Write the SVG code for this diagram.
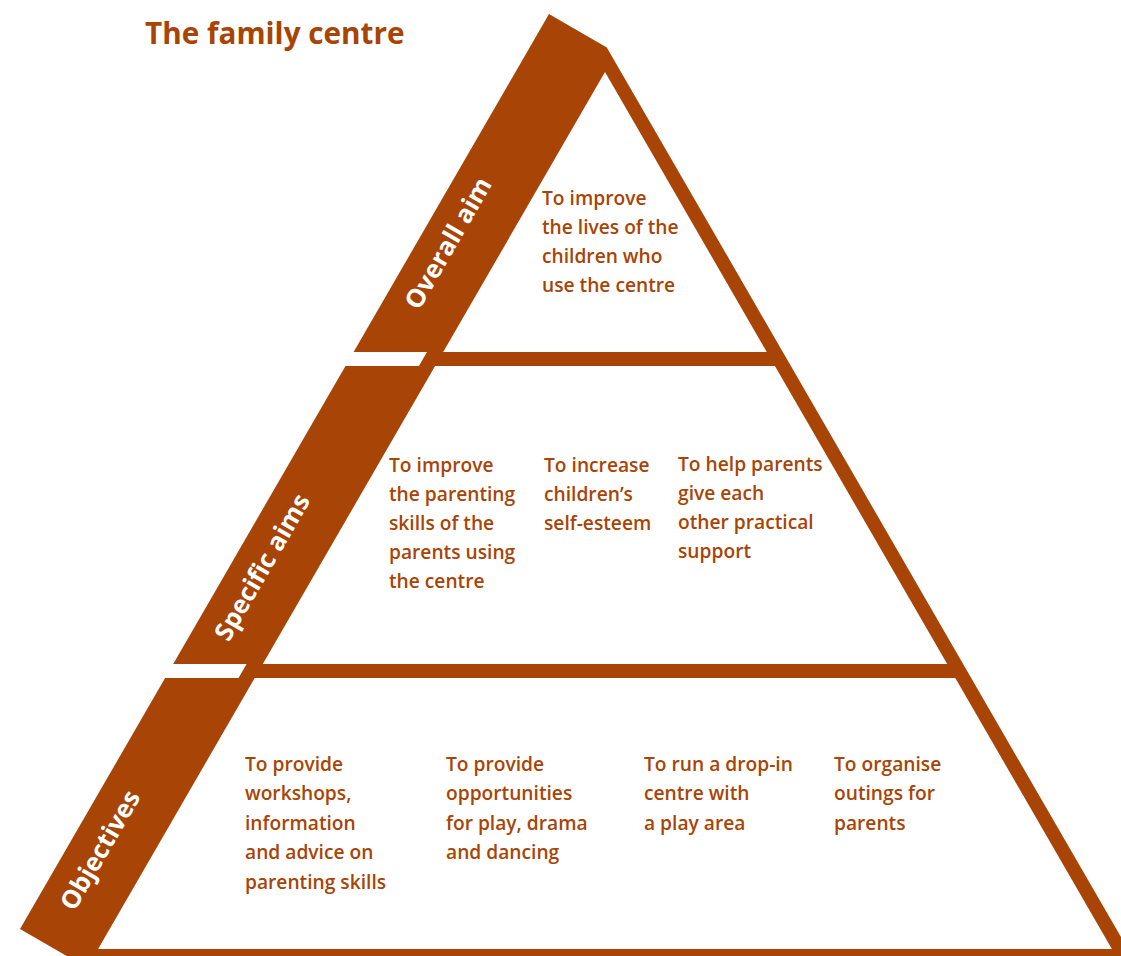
<svg xmlns="http://www.w3.org/2000/svg" width="1121" height="956" viewBox="0 0 1121 956">
  <style>
    .ink { fill: #A84405; }
    .paper { fill: #FFFFFF; }
    .title { font-family: "Open Sans", "Liberation Sans", sans-serif; font-weight: 700; font-size: 29.7px; fill: #A84405; }
    .band { font-family: "Open Sans", "Liberation Sans", sans-serif; font-weight: 700; font-size: 25.5px; fill: #FFFFFF; text-anchor: middle; }
    .body { font-family: "Open Sans", "Liberation Sans", sans-serif; font-weight: 600; font-size: 19.2px; fill: #A84405; }
  </style>

  <rect width="1121" height="956" fill="#FFFFFF"/>

  <!-- Pyramid frame: solid shape, then the white tiers and band gaps cut out of it -->
  <g id="frame">
    <polygon class="ink" points="549,14 606.8,47.4 1140,970 91,970 20,929"/>
    <polygon class="paper" points="605,72 766.8,352 443.2,352"/>
    <polygon class="paper" points="435.1,366 774.9,366 947.2,664 262.8,664"/>
    <polygon class="paper" points="254.7,678 955.3,678 1111.9,949 98.1,949"/>
    <polygon class="paper" points="350,352 427,352 418.9,366 342,366"/>
    <polygon class="paper" points="170,664 246.6,664 238.5,678 162,678"/>
  </g>

  <g id="connectors"></g>

  <g id="heading">
    <text class="title" x="145" y="44">The family centre</text>
  </g>

  <g id="tier-overall-aim">
    <text class="band" transform="translate(448,243) rotate(-60)" y="9">Overall aim</text>
    <text class="body" x="542" y="205">To improve</text>
    <text class="body" x="542" y="234">the lives of the</text>
    <text class="body" x="542" y="263">children who</text>
    <text class="body" x="542" y="292">use the centre</text>
  </g>

  <g id="tier-specific-aims">
    <text class="band" transform="translate(262,567) rotate(-60)" y="9">Specific aims</text>
    <text class="body" x="389" y="472">To improve</text>
    <text class="body" x="389" y="501">the parenting</text>
    <text class="body" x="389" y="530">skills of the</text>
    <text class="body" x="389" y="559">parents using</text>
    <text class="body" x="389" y="588">the centre</text>
    <text class="body" x="544" y="472">To increase</text>
    <text class="body" x="544" y="501">children’s</text>
    <text class="body" x="544" y="530">self-esteem</text>
    <text class="body" x="678" y="471">To help parents</text>
    <text class="body" x="678" y="500">give each</text>
    <text class="body" x="678" y="529">other practical</text>
    <text class="body" x="678" y="558">support</text>
  </g>

  <g id="tier-objectives">
    <text class="band" transform="translate(100,850) rotate(-60)" y="9">Objectives</text>
    <text class="body" x="245" y="771">To provide</text>
    <text class="body" x="245" y="800">workshops,</text>
    <text class="body" x="245" y="830">information</text>
    <text class="body" x="245" y="859">and advice on</text>
    <text class="body" x="245" y="889">parenting skills</text>
    <text class="body" x="446" y="771">To provide</text>
    <text class="body" x="446" y="800">opportunities</text>
    <text class="body" x="446" y="830">for play, drama</text>
    <text class="body" x="446" y="859">and dancing</text>
    <text class="body" x="644" y="771">To run a drop-in</text>
    <text class="body" x="644" y="800">centre with</text>
    <text class="body" x="644" y="830">a play area</text>
    <text class="body" x="834" y="771">To organise</text>
    <text class="body" x="834" y="800">outings for</text>
    <text class="body" x="834" y="830">parents</text>
  </g>
</svg>
